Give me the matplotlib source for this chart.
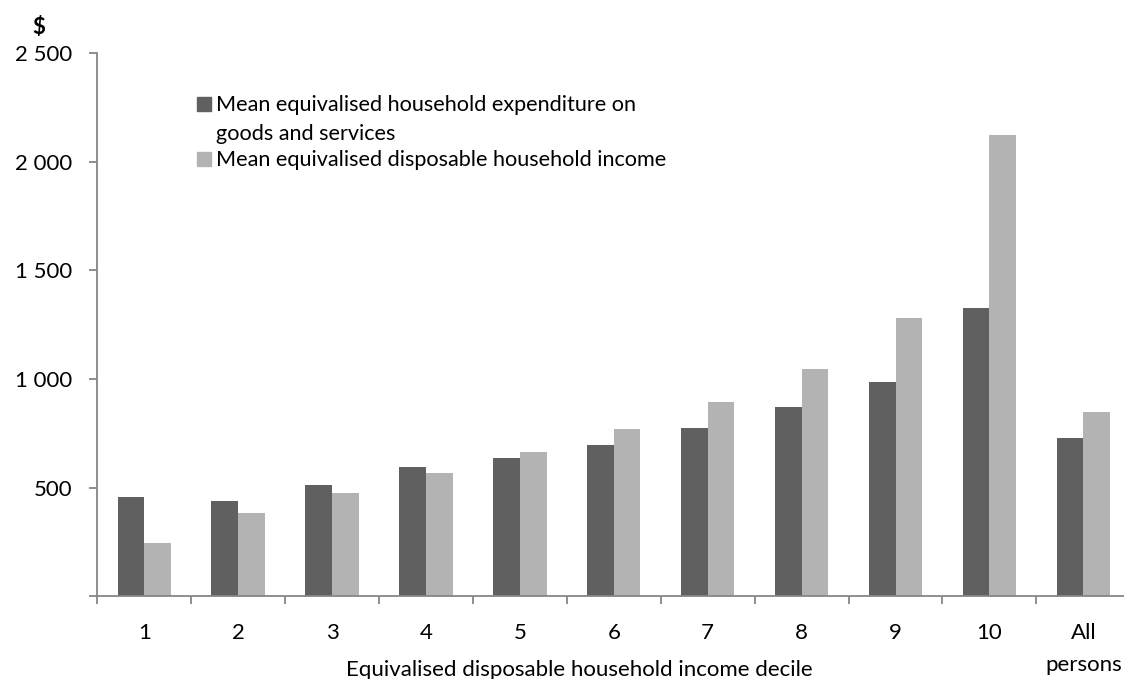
import matplotlib
matplotlib.use('Agg')
import matplotlib.pyplot as plt
from matplotlib.patches import Rectangle
import numpy as np

plt.rcParams['font.family'] = ['Lato', 'DejaVu Sans']

# mean weekly values by income decile
deciles = ['1', '2', '3', '4', '5', '6', '7', '8', '9', '10', 'All\npersons']
expenditure = [457, 437, 512, 597, 638, 698, 775, 873, 988, 1327, 730]
income = [245, 382, 474, 569, 666, 772, 896, 1048, 1281, 2122, 846]
y_ticks = [0, 500, 1000, 1500, 2000, 2500]
y_labels = ['', '500', '1 000', '1 500', '2 000', '2 500']

dark = '#606060'
light = '#b3b3b3'
axis_grey = '#868686'

fig = plt.figure(figsize=(11.24, 6.79), dpi=100)
ax = fig.add_axes([97.3 / 1124, 82.8 / 679, 1033.0 / 1124, 542.9 / 679])

x = np.arange(len(deciles))
w = 0.284
ax.bar(x - w / 2, expenditure, w, color=dark, linewidth=0)
ax.bar(x + w / 2, income, w, color=light, linewidth=0)

ax.set_xlim(-0.5, len(deciles) - 0.5)
ax.set_ylim(0, 2500)

# axes look
for s in ['top', 'right']:
    ax.spines[s].set_visible(False)
for s in ['left', 'bottom']:
    ax.spines[s].set_color(axis_grey)
    ax.spines[s].set_linewidth(1.3)

ax.set_yticks(y_ticks)
ax.set_yticklabels(y_labels)
ax.tick_params(axis='y', length=6, width=1.3, color=axis_grey, labelsize=16, pad=12)

ax.set_xticks(x)
ax.set_xticklabels(deciles, linespacing=1.75, va='top')
ax.set_xticks(np.arange(len(deciles)) - 0.5, minor=True)
ax.tick_params(axis='x', which='major', length=0, labelsize=16, pad=19)
ax.tick_params(axis='x', which='minor', length=6, width=1.3, color=axis_grey)

ax.set_xlabel('Equivalised disposable household income decile', fontsize=16, va='top')
ax.xaxis.set_label_coords(0.467, -0.118)

fig.text(39 / 1124, 1 - 28 / 679, '$', fontsize=16, fontweight='bold',
         ha='center', va='center')

# legend drawn by hand so the swatch sits on the first line
leg_items = [
    (dark, 'Mean equivalised household expenditure on\ngoods and services', 104),
    (light, 'Mean equivalised disposable household income', 159),
]
for col, txt, ypix in leg_items:
    fig.patches.append(Rectangle((197 / 1124, 1 - (ypix + 7) / 679), 14 / 1124, 14 / 679,
                                 transform=fig.transFigure, color=col))
    fig.text(216 / 1124, 1 - (ypix - 9) / 679, txt, fontsize=15.6, ha='left', va='top',
             linespacing=1.55)

fig.savefig('out.png', dpi=100)
